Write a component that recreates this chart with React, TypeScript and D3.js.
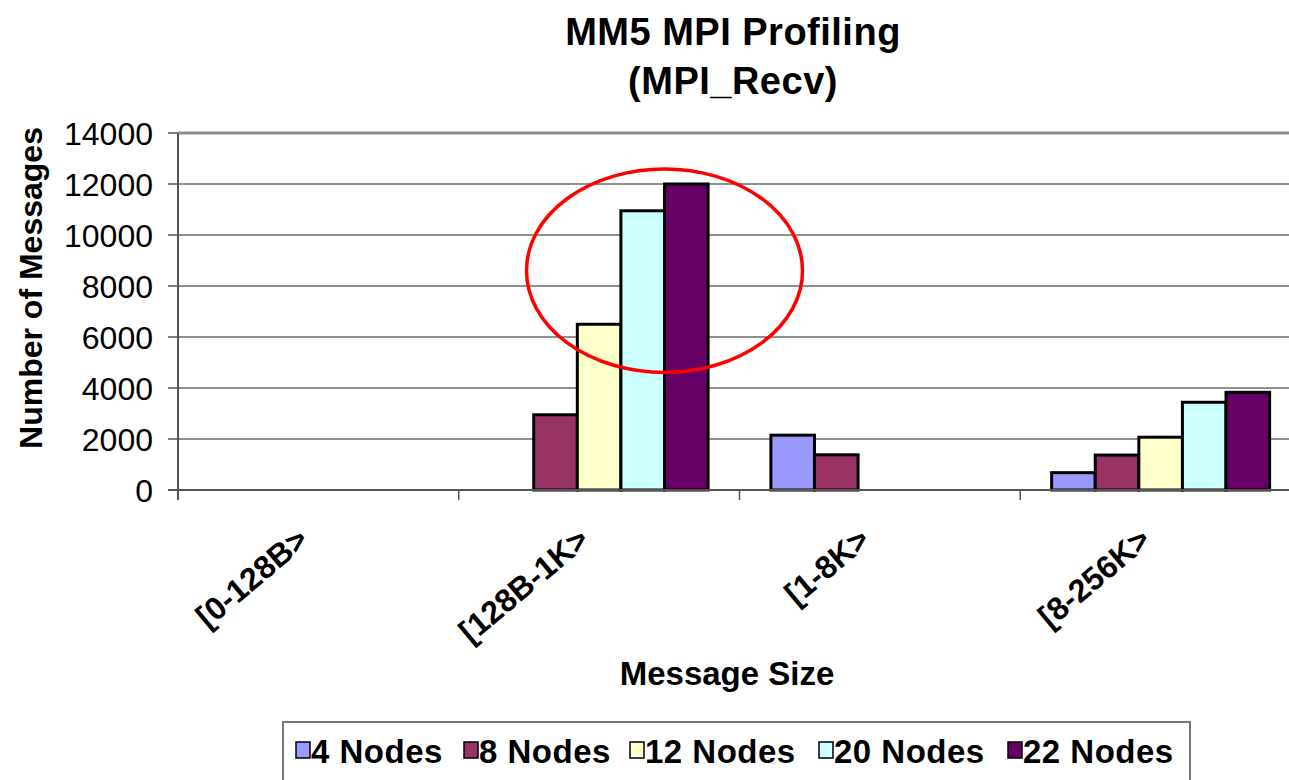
import * as d3 from "d3";

const categories = ["[0-128B>", "[128B-1K>", "[1-8K>", "[8-256K>"];
const seriesNames = ["4 Nodes", "8 Nodes", "12 Nodes", "20 Nodes", "22 Nodes"];
const seriesColors = ["#9999FF", "#993366", "#FFFFCC", "#CCFFFF", "#660066"];
// one array per series, values per category
const nodes4 = [0, 0, 2150, 680];
const nodes8 = [0, 2950, 1380, 1370];
const nodes12 = [0, 6500, 0, 2070];
const nodes20 = [0, 10950, 0, 3440];
const nodes22 = [0, 12000, 0, 3830];
const yTicks = [0, 2000, 4000, 6000, 8000, 10000, 12000, 14000];

const width = 1289;
const height = 780;
const font = "Arial, 'Liberation Sans', sans-serif";

export default function App() {
  const series = [nodes4, nodes8, nodes12, nodes20, nodes22];

  const margin = { left: 178, right: 1301, top: 133, bottom: 490 };

  const x = d3.scaleBand<string>().domain(categories).range([margin.left, margin.right]);
  const inner = d3
    .scaleBand<string>()
    .domain(seriesNames)
    .range([0, x.bandwidth()])
    .paddingOuter(0.72)
    .paddingInner(0);
  const y = d3.scaleLinear().domain([0, 14000]).range([margin.bottom, margin.top]);

  // red highlight around the [128B-1K> group, centred near the 20 Nodes bar
  const hlCx = x(categories[1])! + inner("22 Nodes")!;
  const hlCy = y(8600);
  const hlRx = 138;
  const hlRy = (y(4620) - y(12600)) / 2;

  // legend layout
  const legendItemX = [296, 464, 630, 819, 1008];

  return (
    <svg
      width={width}
      height={height}
      style={{ position: "absolute", left: 0, top: 0, background: "#fff" }}
      fontFamily={font}
    >
      {/* title */}
      <text x={733} y={45} textAnchor="middle" fontSize={38} fontWeight="bold" letterSpacing={0.5}>
        MM5 MPI Profiling
      </text>
      <text x={733} y={94} textAnchor="middle" fontSize={38} fontWeight="bold" letterSpacing={0.5}>
        (MPI_Recv)
      </text>

      {/* gridlines */}
      {yTicks.slice(1, -1).map((t) => (
        <line key={t} x1={margin.left} x2={margin.right} y1={y(t)} y2={y(t)} stroke="#222" strokeWidth={1.2} />
      ))}
      {/* plot top border */}
      <line x1={margin.left} x2={margin.right} y1={y(14000)} y2={y(14000)} stroke="#8c8c8c" strokeWidth={3} />

      {/* bars */}
      {categories.map((c, ci) => (
        <g key={c} transform={`translate(${x(c)},0)`}>
          {seriesNames.map((s, si) => {
            const v = series[si][ci];
            if (!v) return null;
            return (
              <rect
                key={s}
                x={inner(s)}
                y={y(v)}
                width={inner.bandwidth()}
                height={y(0) - y(v)}
                fill={seriesColors[si]}
                stroke="#000"
                strokeWidth={3}
              />
            );
          })}
        </g>
      ))}

      {/* axes */}
      <line x1={margin.left} x2={margin.left} y1={margin.top} y2={margin.bottom + 10} stroke="#555" strokeWidth={2} />
      <line x1={margin.left - 10} x2={margin.right} y1={margin.bottom} y2={margin.bottom} stroke="#555" strokeWidth={2} />
      {yTicks.map((t) => (
        <g key={t}>
          <line x1={margin.left - 10} x2={margin.left} y1={y(t)} y2={y(t)} stroke="#555" strokeWidth={1.5} />
          <text x={153} y={y(t) + 11.5} textAnchor="end" fontSize={32}>
            {t}
          </text>
        </g>
      ))}
      {categories.map((c) => (
        <line key={c} x1={x(c)! + x.bandwidth()} x2={x(c)! + x.bandwidth()} y1={margin.bottom} y2={margin.bottom + 10} stroke="#555" strokeWidth={1.5} />
      ))}
      {categories.map((c) => {
        const cx = x(c)! + x.bandwidth() / 2 - 8;
        return (
          <text
            key={c}
            transform={`translate(${cx},${543}) rotate(-40)`}
            textAnchor="end"
            fontSize={32}
            fontWeight="bold"
          >
            {c}
          </text>
        );
      })}

      {/* axis titles */}
      <text x={727} y={685} textAnchor="middle" fontSize={33} fontWeight="bold">
        Message Size
      </text>
      <text transform={`translate(42,${288}) rotate(-90)`} textAnchor="middle" fontSize={32} fontWeight="bold">
        Number of Messages
      </text>

      {/* highlight */}
      <ellipse cx={hlCx} cy={hlCy} rx={hlRx} ry={hlRy} fill="none" stroke="#FF0000" strokeWidth={3.5} />

      {/* legend */}
      <rect x={283} y={722} width={907} height={80} fill="#fff" stroke="#777" strokeWidth={2} />
      {seriesNames.map((s, i) => (
        <g key={s} transform={`translate(${legendItemX[i]},0)`}>
          <rect x={0} y={742} width={14} height={16} fill={seriesColors[i]} stroke="#000" strokeWidth={1.5} />
          <text x={15} y={763} fontSize={33} fontWeight="bold" letterSpacing={0.5}>
            {s}
          </text>
        </g>
      ))}
    </svg>
  );
}
